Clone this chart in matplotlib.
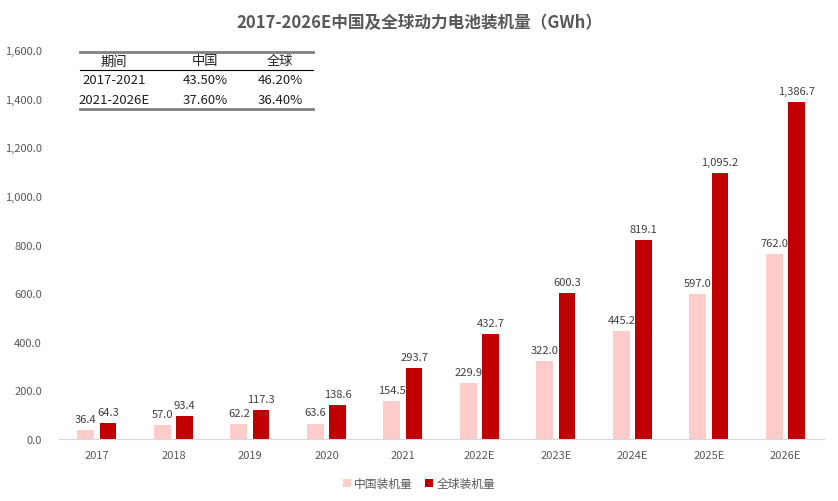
import matplotlib.pyplot as plt
import numpy as np
from matplotlib.lines import Line2D

plt.rcParams['font.family'] = ['Noto Sans CJK SC', 'DejaVu Sans']

years = ['2017', '2018', '2019', '2020', '2021', '2022E', '2023E', '2024E', '2025E', '2026E']
china = [36.4, 57.0, 62.2, 63.6, 154.5, 229.9, 322.0, 445.2, 597.0, 762.0]
world = [64.3, 93.4, 117.3, 138.6, 293.7, 432.7, 600.3, 819.1, 1095.2, 1386.7]

tableHeader = ['期间', '中国', '全球']
tableRows = [['2017-2021', '43.50%', '46.20%'],
             ['2021-2026E', '37.60%', '36.40%']]

chinaColor = '#FFCCCC'
worldColor = '#C00000'
textColor = '#595959'

fig = plt.figure(figsize=(8.38, 5.02), dpi=100)
ax = fig.add_axes([0.070, 0.1235, 0.913, 0.7745])

x = np.arange(len(years))
w = 0.22
gap = 0.035
barsC = ax.bar(x - w / 2 - gap, china, w, color=chinaColor, label='中国装机量')
barsW = ax.bar(x + w / 2 + gap, world, w, color=worldColor, label='全球装机量')

for b, v in zip(barsC, china):
    ax.text(b.get_x() + b.get_width() / 2, v + 25, f'{v:,.1f}', ha='center', va='bottom',
            fontsize=8, color='#404040')
for b, v in zip(barsW, world):
    ax.text(b.get_x() + b.get_width() / 2, v + 25, f'{v:,.1f}', ha='center', va='bottom',
            fontsize=8, color='#404040')

ax.set_xlim(-0.5, len(years) - 0.5)
ax.set_ylim(0, 1600)
ax.set_yticks(np.arange(0, 1601, 200))
ax.set_yticklabels([f'{t:,.1f}' for t in np.arange(0, 1601, 200)])
ax.set_xticks(x)
ax.set_xticklabels(years)
ax.tick_params(axis='both', length=0, labelsize=8, colors=textColor)
ax.tick_params(axis='y', pad=12)
ax.tick_params(axis='x', pad=8)
for side in ['top', 'right', 'left']:
    ax.spines[side].set_visible(False)
ax.spines['bottom'].set_color('#D9D9D9')

fig.suptitle('2017-2026E中国及全球动力电池装机量（GWh）', x=0.5, y=0.972, fontsize=12,
             fontweight='bold', color=textColor)

leg = fig.legend(handles=[barsC, barsW], loc='lower center', bbox_to_anchor=(0.5, 0.0),
                 ncol=2, frameon=False, fontsize=8.5, handlelength=0.7, handleheight=0.7,
                 columnspacing=1.0, handletextpad=0.3)
for t in leg.get_texts():
    t.set_color(textColor)

# growth table in the upper left
colX = [114, 205, 280]
rowY = [62, 81, 100]
for cx, h in zip(colX, tableHeader):
    fig.text(cx / 838, 1 - rowY[0] / 502, h, ha='center', va='center', fontsize=9.5,
             color='#202020', fontweight='light')
for ry, row in zip(rowY[1:], tableRows):
    for cx, cell in zip(colX, row):
        fig.text(cx / 838, 1 - ry / 502, cell, ha='center', va='center', fontsize=9.5,
                 color='#202020', fontweight='light')
x0, x1 = 80 / 838, 313 / 838
fig.add_artist(Line2D([x0, x1], [1 - 53 / 502] * 2, color='#808080', lw=2.0))
fig.add_artist(Line2D([x0, x1], [1 - 71 / 502] * 2, color='black', lw=0.8))
fig.add_artist(Line2D([x0, x1], [1 - 110 / 502] * 2, color='#808080', lw=2.0))

fig.savefig('out.png', dpi=100)
